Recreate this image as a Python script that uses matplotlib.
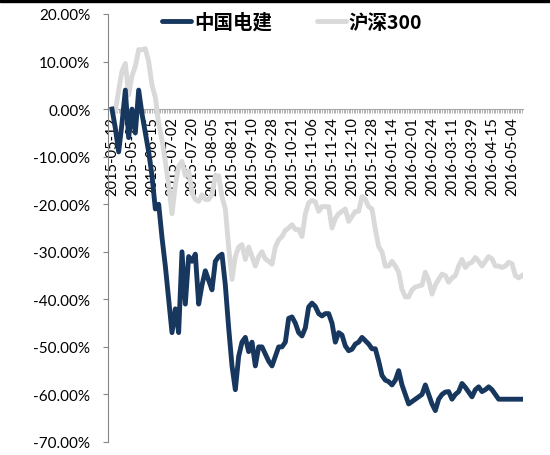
import numpy as np
import matplotlib.pyplot as plt
from matplotlib.ticker import FuncFormatter, MultipleLocator, FixedLocator
from matplotlib.lines import Line2D

plt.rcParams['font.family'] = ['Lato', 'Noto Sans CJK SC', 'DejaVu Sans']

# tick labels, one every 12 trading days
date_labels = ['2015-05-12', '2015-05-28', '2015-06-15', '2015-07-02', '2015-07-20',
               '2015-08-05', '2015-08-21', '2015-09-10', '2015-09-28', '2015-10-21',
               '2015-11-06', '2015-11-24', '2015-12-10', '2015-12-28', '2016-01-14',
               '2016-02-01', '2016-02-24', '2016-03-11', '2016-03-29', '2016-04-15',
               '2016-05-04']
label_every = 12
n_days = 247

# cumulative return (%), sampled every 2 trading days
step = 2
powerchina = [0, -4, -9, -3, 4, -6, 0, -5, 4, -1,
              -5, -9, -14, -21, -20, -27, -33, -40, -47, -42,
              -47, -30, -41, -31, -32, -30.5, -41, -37, -34, -36,
              -38, -32, -31, -30.5, -37, -46, -54, -59, -52, -49,
              -48, -51, -49, -54, -50, -50, -51.5, -53, -54, -52,
              -50, -50, -49, -44, -43.7, -45, -47, -47.7, -46, -41.6,
              -40.8, -41.5, -43, -43.5, -43, -43, -45, -49, -47, -47.5,
              -49.8, -50.8, -50.5, -49.4, -49, -48, -48.7, -49.4, -50.4, -50.4,
              -53, -56, -57, -57.3, -58, -57, -55, -58, -60, -62,
              -61.5, -61, -60.5, -60, -58, -60, -62, -63.4, -61, -60,
              -59.5, -59.4, -61, -60, -59.4, -57.7, -58.5, -59.5, -60.5, -59,
              -58.4, -59.4, -59, -58.4, -59, -60, -61, -61, -61, -61,
              -61, -61, -61, -61]
csi300 = [0, -0.5, 4, 8, 9.6, 3, 7, 9, 12.5, 12.5,
          12.7, 10, 5, 2.5, -3, -6.5, -11, -16, -22, -16,
          -12, -11, -14, -13, -17.6, -19, -19.4, -18, -19, -19,
          -18, -14, -14, -18.4, -21, -29, -35.8, -31, -29, -28.5,
          -31.6, -29, -31, -33, -31, -30, -31.5, -32, -32.6, -29,
          -27.5, -26.8, -25.5, -25, -24.3, -25.3, -25.3, -26.8, -22, -19.7,
          -19.2, -19.5, -21.5, -20.5, -20.5, -20.5, -25, -23, -22, -21.5,
          -21, -23.6, -22.6, -21.5, -21.5, -18.4, -19, -20.5, -21, -25.3,
          -28.9, -30, -33, -33, -32, -33, -34.3, -37.9, -39.5, -39.5,
          -38, -37.4, -37.2, -37, -34.3, -36, -38.9, -37, -35.8, -34.7,
          -35, -36.4, -35.5, -35, -33, -31.6, -33.3, -32.5, -32.2, -31.2,
          -32, -33, -32, -31, -31.5, -33, -33, -33.3, -33, -32.2,
          -32.5, -35, -35.5, -35]

x = np.arange(len(powerchina)) * step

fig = plt.figure(figsize=(5.5, 4.56), dpi=100)
ax = fig.add_axes([108 / 550, 13 / 456, (523 - 108) / 550, 428 / 456])

ax.plot(x, np.array(csi300) / 100, color='#D9D9D9', lw=3.5, zorder=2,
        solid_joinstyle='round', label='沪深300')
ax.plot(x, np.array(powerchina) / 100, color='#17375E', lw=3.5, zorder=3,
        solid_joinstyle='round', label='中国电建')

ax.set_ylim(-0.7, 0.2)
ax.set_xlim(-2.4, 246.6)
ax.yaxis.set_major_locator(MultipleLocator(0.1))
ax.yaxis.set_major_formatter(FuncFormatter(lambda v, p: '{:.2f}%'.format(v * 100)))

ax.xaxis.set_major_locator(FixedLocator(np.arange(len(date_labels)) * label_every))
ax.xaxis.set_minor_locator(FixedLocator(np.arange(n_days)))
ax.set_xticklabels(date_labels)

for s in ['top', 'right']:
    ax.spines[s].set_visible(False)
ax.spines['bottom'].set_position(('data', 0))
ax.spines['bottom'].set_color('#A6A6A6')
ax.spines['left'].set_color('#868686')
ax.spines['bottom'].set_zorder(1)

ax.tick_params(axis='y', direction='out', length=3.6, color='#868686', pad=9,
               labelsize=11)
ax.tick_params(axis='x', which='both', direction='out', length=3, width=0.6,
               color='#A6A6A6', pad=2, labelsize=10.5, labelrotation=90)
plt.setp(ax.get_xticklabels(), ha='center', va='top', rotation_mode='default')

handles = [Line2D([], [], color='#17375E', lw=3.5, solid_capstyle='round'),
           Line2D([], [], color='#D9D9D9', lw=3.5, solid_capstyle='round')]
fig.legend(handles, ['中国电建', '沪深300'], loc='center',
           bbox_to_anchor=(292 / 550, 1 - 23 / 456), ncol=2, frameon=False,
           prop={'family': 'Noto Sans CJK SC', 'weight': 'bold', 'size': 14},
           handlelength=1.5, handletextpad=0.15, columnspacing=2.3)

# dark rule across the top edge
fig.add_artist(plt.Rectangle((0, 1 - 3 / 456), 1, 3 / 456, transform=fig.transFigure,
                             color='black'))

fig.savefig('out.png', dpi=100)
